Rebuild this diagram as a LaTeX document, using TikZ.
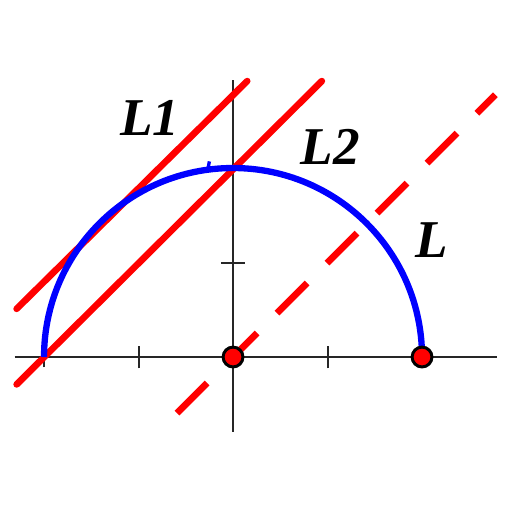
\documentclass[tikz,border=0pt]{standalone}
\usepackage{fontspec}
\setmainfont{Liberation Serif}
\usetikzlibrary{arrows.meta}

\begin{document}
\begin{tikzpicture}[x=1cm,y=1cm,
  axis/.style={line width=0.6pt, black!85},
  redline/.style={line width=2pt, red, line cap=round},
  lbl/.style={font=\fontsize{16}{18}\selectfont\bfseries\itshape}]
\useasboundingbox (-2.466,-1.640) rectangle (2.952,3.778);
% axes and ticks
\draw[axis] (-2.31,0) -- (2.79,0);
\draw[axis] (0,-0.79) -- (0,2.93);
\draw[axis] (-2,-0.11) -- (-2,0.11);
\draw[axis] (-1,-0.12) -- (-1,0.12);
\draw[axis] (1,-0.12) -- (1,0.12);
\draw[axis] (-0.13,1) -- (0.13,1);
% lines
\draw[redline] (-2.29,0.51) -- (0.15,2.92);
\draw[redline] (-2.29,-0.29) -- (0.94,2.92);
\draw[redline, line cap=butt, dash pattern=on 0.45cm off 0.298cm] (-0.593,-0.593) -- (2.775,2.775);
% semicircle
\draw[line width=1.9pt, blue] (-2,0) arc (180:0:2);
\draw[line width=1pt, blue] (-0.25,2.07) -- (-0.27,1.97);
% points
\draw[line width=0.9pt, fill=red] (0,0) circle (0.105);
\draw[line width=0.9pt, fill=red] (2,0) circle (0.105);
% labels
\node[lbl] (l1) at (-0.88,2.53) {L1};
\node[lbl] (l2) at (1.03,2.22) {L2};
\node[lbl] (l) at (2.10,1.24) {L};
\end{tikzpicture}
\end{document}
